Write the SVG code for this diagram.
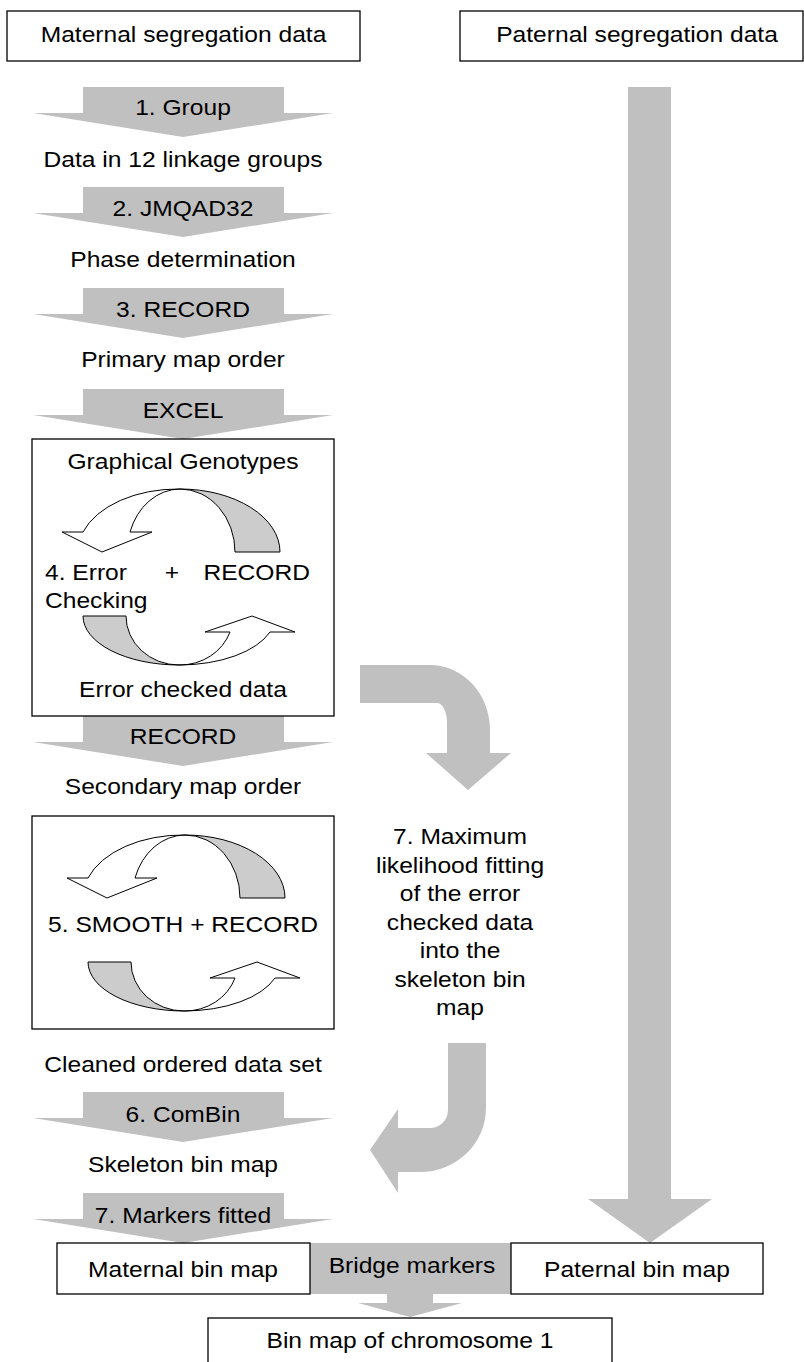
<svg xmlns="http://www.w3.org/2000/svg" xmlns:xlink="http://www.w3.org/1999/xlink" width="804" height="1362" viewBox="0 0 804 1362">
  <style>
    .box{fill:#fff;stroke:#000;stroke-width:1.3}
    .blk{fill:#c0c0c0;stroke:none}
    .cyc-b{fill:#cccccc;stroke:#000;stroke-width:1}
    .cyc-f{fill:#fff;stroke:#000;stroke-width:1}
    text{font-family:"Liberation Sans",Arial,Helvetica,sans-serif;font-size:22px;fill:#000;text-anchor:middle}
    text.s{text-anchor:start}
    text.e{text-anchor:end}
  </style>
  <defs>
    <!-- wide down-pointing block arrow, placed by its shaft top -->
    <path id="step" d="M83,0 H284 V26 H333 L183,50 L33,26 H83 Z"/>
    <!-- pair of curved arrows forming an iteration loop -->
    <g id="loop">
      <path class="cyc-b" d="M280,552 A100,63 0 0 0 180,489 A55,63 0 0 1 235,552 Z"/>
      <path class="cyc-f" d="M83,532 A100,63 0 0 1 180,489 A53,63 0 0 0 130,532 L152,532 L102,552 L62,532 Z"/>
      <path class="cyc-b" d="M83,616 A96,49 0 0 0 179,665 A53,49 0 0 1 126,616 Z"/>
      <path class="cyc-f" d="M179,665 A96,49 0 0 0 270,632 L295,632 L252,616 L205,632 L230,632 A53,49 0 0 1 179,665 Z"/>
    </g>
  </defs>

  <!-- connectors: block arrows and curved arrows -->
  <g id="connectors">
    <rect class="blk" x="310" y="1243" width="201" height="51"/>
    <path class="blk" d="M387,1294 H433 V1303 H462 L410,1317 L358,1303 H387 Z"/>
    <path class="blk" d="M628,87 H671 V1199 H712 L650,1243 L588,1199 H628 Z"/>
    <use xlink:href="#step" class="blk" y="87"/>
    <use xlink:href="#step" class="blk" y="187"/>
    <use xlink:href="#step" class="blk" y="288"/>
    <use xlink:href="#step" class="blk" y="389"/>
    <use xlink:href="#step" class="blk" y="716"/>
    <use xlink:href="#step" class="blk" y="1092"/>
    <use xlink:href="#step" class="blk" y="1193"/>
    <path class="blk" d="M360,665 L430,665 A60,65 0 0 1 490,730 L490,753 L511,753 L468,790 L426,753 L447,753 L447,723 A10,20 0 0 0 437,703 L360,703 Z"/>
    <path class="blk" d="M448,1043 L486,1043 L486,1108 A66,64 0 0 1 420,1172 L398,1172 L398,1193 L370,1150 L398,1109 L398,1128 L430,1128 A18,18 0 0 0 448,1110 Z"/>
  </g>

  <!-- step labels on the block arrows -->
  <g id="step-labels">
    <text transform="translate(183,115) scale(1.118,1)">1. Group</text>
    <text transform="translate(183,216) scale(1.118,1)">2. JMQAD32</text>
    <text transform="translate(183,317) scale(1.118,1)">3. RECORD</text>
    <text transform="translate(183,418) scale(1.118,1)">EXCEL</text>
    <text transform="translate(183,744) scale(1.118,1)">RECORD</text>
    <text transform="translate(183,1122) scale(1.118,1)">6. ComBin</text>
    <text transform="translate(183,1223) scale(1.118,1)">7. Markers fitted</text>
    <text transform="translate(412,1273) scale(1.118,1)">Bridge markers</text>
  </g>

  <g id="maternal-data">
    <rect class="box" x="7" y="11" width="353" height="50"/>
    <text transform="translate(183.5,42) scale(1.118,1)">Maternal segregation data</text>
  </g>
  <g id="paternal-data">
    <rect class="box" x="460" y="11" width="343" height="50"/>
    <text transform="translate(637,42) scale(1.118,1)">Paternal segregation data</text>
  </g>
  <g id="linkage-groups">
    <text transform="translate(183,167) scale(1.118,1)">Data in 12 linkage groups</text>
  </g>
  <g id="phase">
    <text transform="translate(183,267) scale(1.118,1)">Phase determination</text>
  </g>
  <g id="primary-order">
    <text transform="translate(183,367) scale(1.118,1)">Primary map order</text>
  </g>
  <g id="error-checking">
    <rect class="box" x="32" y="439" width="302" height="277"/>
    <text transform="translate(183,469) scale(1.118,1)">Graphical Genotypes</text>
    <use xlink:href="#loop"/>
    <text class="s" transform="translate(45,580) scale(1.118,1)">4. Error</text>
    <text transform="translate(172,580) scale(1.118,1)">+</text>
    <text class="e" transform="translate(310,580) scale(1.118,1)">RECORD</text>
    <text class="s" transform="translate(45,608) scale(1.118,1)">Checking</text>
    <text transform="translate(183,697) scale(1.118,1)">Error checked data</text>
  </g>
  <g id="secondary-order">
    <text transform="translate(183,794) scale(1.118,1)">Secondary map order</text>
  </g>
  <g id="smoothing">
    <rect class="box" x="32" y="816" width="302" height="213"/>
    <use xlink:href="#loop" transform="translate(5,346)"/>
    <text transform="translate(183,932) scale(1.118,1)">5. SMOOTH + RECORD</text>
  </g>
  <g id="ml-fitting">
    <text transform="translate(460,844) scale(1.118,1)">7. Maximum</text>
    <text transform="translate(460,872.5) scale(1.118,1)">likelihood fitting</text>
    <text transform="translate(460,901) scale(1.118,1)">of the error</text>
    <text transform="translate(460,929.5) scale(1.118,1)">checked data</text>
    <text transform="translate(460,958) scale(1.118,1)">into the</text>
    <text transform="translate(460,986.5) scale(1.118,1)">skeleton bin</text>
    <text transform="translate(460,1015) scale(1.118,1)">map</text>
  </g>
  <g id="cleaned-data">
    <text transform="translate(183,1072) scale(1.118,1)">Cleaned ordered data set</text>
  </g>
  <g id="skeleton-map">
    <text transform="translate(183,1172) scale(1.118,1)">Skeleton bin map</text>
  </g>
  <g id="maternal-bin-map">
    <rect class="box" x="57" y="1243" width="253" height="51"/>
    <text transform="translate(183,1277) scale(1.118,1)">Maternal bin map</text>
  </g>
  <g id="paternal-bin-map">
    <rect class="box" x="511" y="1243" width="252" height="51"/>
    <text transform="translate(637,1277) scale(1.118,1)">Paternal bin map</text>
  </g>
  <g id="chromosome-map">
    <rect class="box" x="208" y="1318" width="404" height="60"/>
    <text transform="translate(410,1348) scale(1.118,1)">Bin map of chromosome 1</text>
  </g>
</svg>
